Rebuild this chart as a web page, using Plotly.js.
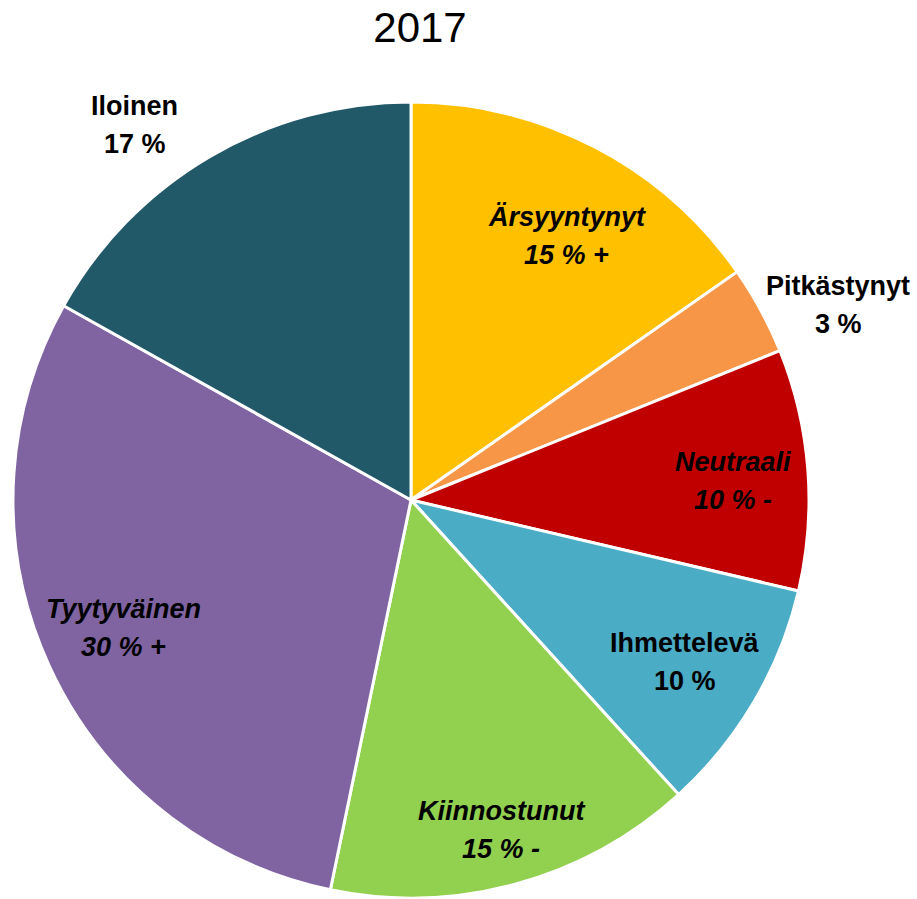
<!DOCTYPE html>
<html>
<head>
<meta charset="utf-8">
<script src="https://cdn.plot.ly/plotly-3.0.1.min.js"></script>
<style>html,body{margin:0;padding:0;background:#fff;}#chart{width:917px;height:899px;}</style>
</head>
<body>
<div id="chart"></div>
<script>
// Data
const labels = ['Ärsyyntynyt', 'Pitkästynyt', 'Neutraali', 'Ihmettelevä', 'Kiinnostunut', 'Tyytyväinen', 'Iloinen'];
const values = [15.3, 3.6, 9.8, 9.6, 15.0, 29.9, 16.9];
const shownPct = [15, 3, 10, 10, 15, 30, 17];
const changes = ['+', '', '-', '', '-', '+', ''];
const colors = ['#FFC000', '#F79646', '#C00000', '#4BACC6', '#92D050', '#8064A2', '#215968'];

// Layout geometry
const W = 917, H = 899;
const cxPx = 411, cyPx = 500, rPx = 398;
const dom = {
  x: [(cxPx - rPx) / W, (cxPx + rPx) / W],
  y: [(H - cyPx - rPx) / H, (H - cyPx + rPx) / H]
};
// label placement styles (radius fraction, angle tweak in degrees)
const labelRadius = [0.77, 1.18, 0.81, 0.80, 0.86, 0.79, 1.17];
const angleTweak = [3, 4, 1, 0, 0, 0.5, -6];
const lineGap = 38;

const total = values.reduce((a, b) => a + b, 0);
let cum = 0;
const annotations = [];
values.forEach((v, i) => {
  const mid = (cum + v / 2) / total;
  cum += v;
  const th = mid * 2 * Math.PI + angleTweak[i] * Math.PI / 180;
  const px = cxPx + rPx * labelRadius[i] * Math.sin(th);
  const py = cyPx - rPx * labelRadius[i] * Math.cos(th);
  const italic = changes[i] !== '' || i === 2;
  const pct = shownPct[i] + ' %' + (changes[i] ? ' ' + changes[i] : '');
  const wrap = s => italic ? '<b><i>' + s + '</i></b>' : '<b>' + s + '</b>';
  [labels[i], pct].forEach((line, k) => {
    annotations.push({
      xref: 'paper', yref: 'paper',
      x: px / W, y: 1 - py / H,
      yshift: (k === 0 ? 1 : -1) * lineGap / 2,
      xanchor: 'center', yanchor: 'middle',
      text: wrap(line),
      showarrow: false,
      font: {family: 'Liberation Sans, Arial, sans-serif', size: 27, color: '#000'}
    });
  });
});

const trace = {
  type: 'pie',
  labels: labels,
  values: values,
  sort: false,
  direction: 'clockwise',
  rotation: 0,
  textinfo: 'none',
  hoverinfo: 'label+percent',
  marker: {colors: colors, line: {color: '#ffffff', width: 3}},
  domain: dom,
  showlegend: false
};

const layout = {
  width: W, height: H,
  margin: {l: 0, r: 0, t: 0, b: 0},
  paper_bgcolor: '#fff',
  title: {
    text: '2017',
    x: 420 / W, xanchor: 'center',
    y: 1 - 27 / H, yanchor: 'middle', yref: 'container',
    font: {family: 'Liberation Sans, Arial, sans-serif', size: 42, color: '#000'}
  },
  annotations: annotations,
  showlegend: false
};

Plotly.newPlot('chart', [trace], layout, {displayModeBar: false, staticPlot: true});
</script>
</body>
</html>
